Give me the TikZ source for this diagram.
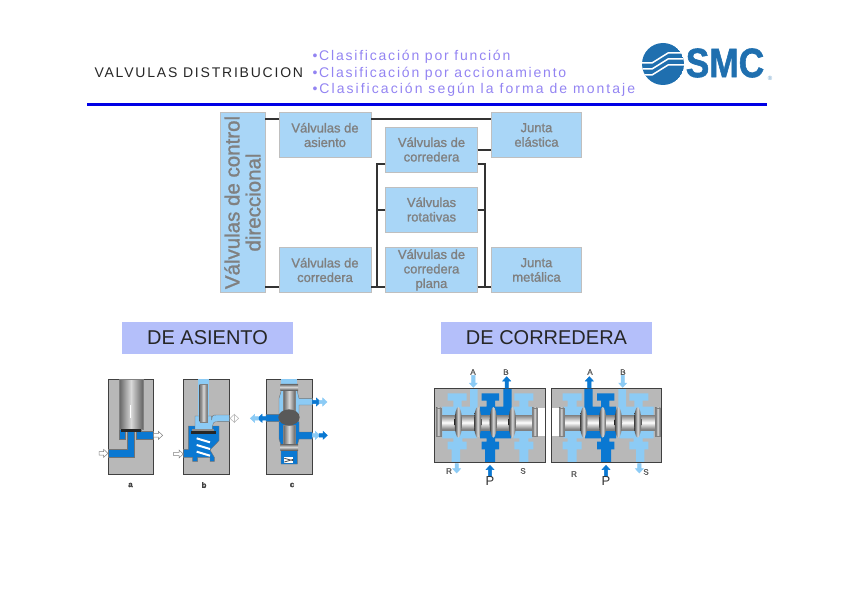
\documentclass[tikz,border=0pt]{standalone}
\usepackage{fontspec}
\usepackage{xcolor}
\setmainfont{Liberation Sans}
\newfontfamily\spaced[LetterSpace=12.8]{Liberation Sans}
\newfontfamily\spacedwide[LetterSpace=14.6]{Liberation Sans}
\newfontfamily\boxfont[FakeBold=1.2]{Liberation Sans}
\newfontfamily\logofont[FakeBold=1.5]{Liberation Sans Bold}
\usetikzlibrary{positioning,calc}
\definecolor{boxblue}{HTML}{A9D6F7}
\definecolor{headblue}{HTML}{B4BFFA}
\definecolor{lilac}{HTML}{9384F2}
\definecolor{lightb}{HTML}{8CCBF5}
\definecolor{darkb}{HTML}{0A78D2}
\definecolor{smcblue}{HTML}{1F6FAF}
\definecolor{bodygray}{HTML}{B8B8B8}
\tikzset{
  typebox/.style={draw=black!25, fill=boxblue, minimum width=92pt, minimum height=45pt, inner sep=0pt, align=center, font=\fontsize{13}{14.5}\boxfont, text=black!50},
  conn/.style={draw=black!80, line width=2pt},
  headbox/.style={fill=headblue, minimum height=32pt, font=\fontsize{20}{22}\selectfont, text=black!85},
  bullet/.style={anchor=west, text=lilac, font=\fontsize{14}{16}\spaced},
  body/.style={fill=bodygray, draw=black!75, line width=0.6pt},
  lightport/.style={fill=lightb},
  darkport/.style={fill=darkb},
  channel/.style={draw=black!55, line width=0.4pt},
  steel/.style={top color=black!50, bottom color=black!55, middle color=white, draw=black!50, line width=0.2pt},
  steelv/.style={left color=black!60, right color=black!60, middle color=white!85!black, draw=black!50, line width=0.2pt},
  land/.style={left color=black!75, right color=black!70, middle color=black!15},
  tag/.style={font=\fontsize{8}{9}\logofont, text=black!75},
  smalltag/.style={font=\fontsize{8}{9}\boxfont, text=black!65}
}
% arrow of a port: x, y, angle, length, fill, line
\newcommand{\portarrow}[6]{
  \begin{scope}[shift={(#1,#2)},rotate=#3]
    \draw[fill=#5,draw=#6,line width=0.5pt] (0,-5) -- (#4-13,-5) -- (#4-13,-12) -- (#4,0) -- (#4-13,12) -- (#4-13,5) -- (0,5) -- cycle;
  \end{scope}}
% the spool valve, in the 3x coordinates of its crop
\newcommand{\spoolvalve}{
  \fill[body] (28,86) rectangle (360,308);
  \fill[lightport] (68,100) -- (125,100) -- (125,122) -- (110,122) -- (110,140) -- (135,140) -- (135,86) -- (158,86) -- (158,165) -- (52,165) -- (52,140) -- (85,140) -- (85,122) -- (68,122) -- cycle;
  \fill[lightport] (52,210) -- (155,210) -- (155,235) -- (112,235) -- (112,245) -- (125,245) -- (125,268) -- (105,268) -- (105,308) -- (80,308) -- (80,268) -- (68,268) -- (68,245) -- (85,245) -- (85,235) -- (52,235) -- cycle;
  \fill[darkport] (170,100) -- (222,100) -- (222,122) -- (210,122) -- (210,140) -- (235,140) -- (235,86) -- (260,86) -- (260,165) -- (165,165) -- (165,140) -- (185,140) -- (185,122) -- (170,122) -- cycle;
  \fill[darkport] (165,210) -- (258,210) -- (258,235) -- (210,235) -- (210,245) -- (222,245) -- (222,268) -- (210,268) -- (210,308) -- (180,308) -- (180,268) -- (170,268) -- (170,245) -- (185,245) -- (185,235) -- (165,235) -- cycle;
  \fill[lightport] (268,100) -- (325,100) -- (325,122) -- (310,122) -- (310,140) -- (322,140) -- (322,165) -- (265,165) -- (265,140) -- (283,140) -- (283,122) -- (268,122) -- cycle;
  \fill[lightport] (265,210) -- (322,210) -- (322,235) -- (310,235) -- (310,245) -- (325,245) -- (325,268) -- (310,268) -- (310,308) -- (283,308) -- (283,268) -- (268,268) -- (268,245) -- (283,245) -- (283,235) -- (265,235) -- cycle;
  \fill[white] (335,145) rectangle (360,228);
  \shade[steel] (45,165) rectangle (325,210);
  \shade[steelv] (33,143) rectangle (47,228);
  \shade[steelv] (322,143) rectangle (336,228);
  \foreach \x in {100,158,205,262}
    \shade[land] (\x,187) ellipse (11 and 46);
  \draw[black!75, line width=0.6pt] (28,86) rectangle (360,308);
  \portarrow{145}{46}{-90}{36}{lightb}{lightb}
  \portarrow{245}{84}{90}{34}{darkb}{darkb}
  \portarrow{95}{311}{-90}{28}{lightb}{lightb}
  \portarrow{195}{350}{90}{34}{darkb}{darkb}
}
\begin{document}
\begin{tikzpicture}[x=1pt,y=-1pt]
\useasboundingbox (0,0) rectangle (848,599);
% header
\node[anchor=west, font=\fontsize{14}{16}\spaced, text=black!85] (title) at (91,73) {VALVULAS DISTRIBUCION};
\node[bullet] (b1) at (309,57) {•Clasificación por función};
\node[bullet] (b2) at (309,73.5) {•Clasificación por accionamiento};
\node[bullet, font=\fontsize{14}{16}\spacedwide] (b3) at (309,90) {•Clasificación según la forma de montaje};
\fill[fill=blue!90!black] (87,103.5) rectangle (767,106.5);
% logo
\begin{scope}
  \clip (663,64) circle (21);
  \fill[smcblue] (663,64) circle (21);
  \foreach \y in {0,6,12}
    \draw[white, line width=1.5pt] (640,63+\y) -- (652,63+\y) -- (668,53+\y) -- (690,53+\y);
\end{scope}
\node[anchor=center, inner sep=0pt, text=smcblue, font=\fontsize{41}{41}\logofont, xscale=0.86] (smc) at (725,63) {SMC};
\node[inner sep=0pt, text=smcblue!70, font=\fontsize{6}{6}\selectfont] (reg) at (770,78) {®};
% tree of valve types
\node[typebox, rotate=90, minimum width=180pt, minimum height=45pt, font=\fontsize{20.5}{21}\boxfont] (ctrl) at (242.5,202.5) {Válvulas de control\\direccional};
\node[typebox] (asiento) at (325,135) {Válvulas de\\asiento};
\node[typebox] (corredera) at (325,270) {Válvulas de\\corredera};
\node[typebox] (vcorr) at (431.5,149.5) {Válvulas de\\corredera};
\node[typebox] (rot) at (431.5,209.5) {Válvulas\\rotativas};
\node[typebox] (plana) at (431.5,270) {Válvulas de\\corredera\\plana};
\node[typebox, minimum width=90pt] (elast) at (536.5,135) {Junta\\elástica};
\node[typebox, minimum width=90pt] (metal) at (536.5,270) {Junta\\metálica};
\draw[conn] ([yshift=-7pt]ctrl.south east) -- ([yshift=-7pt]asiento.north west);
\draw[conn] ([yshift=-7pt]asiento.north east) -- ([yshift=-7pt]elast.north west);
\draw[conn] ([yshift=6pt]ctrl.south west) -- ([yshift=6pt]corredera.south west);
\draw[conn] ([yshift=6pt]corredera.south east) -- ([yshift=6pt]plana.south west);
\draw[conn] (vcorr.east) -- (vcorr.east -| elast.west);
\draw[conn] ([yshift=8pt]vcorr.south west) -| ([xshift=-8pt,yshift=6pt]plana.south west);
\draw[conn] ([yshift=8pt]vcorr.south east) -| ([xshift=7pt,yshift=6pt]plana.south east);
\draw[conn] (rot.west) -- ++(-8,0);
\draw[conn] (rot.east) -- ++(7,0);
\draw[conn] ([yshift=6pt]plana.south east) -- ([yshift=6pt]metal.south west);
% headings
\node[headbox, minimum width=171pt] (hasiento) at (207.5,338) {DE ASIENTO};
\node[headbox, minimum width=211pt] (hcorr) at (546.5,338) {DE CORREDERA};
% poppet valves
\begin{scope}[shift={(95,370)},scale=1/3]
  % a
  \fill[body] (39,28) rectangle (176,314);
  \draw[fill=darkb,channel] (39,238) -- (98,238) -- (98,178) -- (118,178) -- (118,262) -- (39,262) -- cycle;
  \draw[fill=darkb,channel] (73,178) rectangle (90,207);
  \draw[fill=darkb,channel] (125,178) -- (140,178) -- (140,185) -- (176,185) -- (176,207) -- (125,207) -- cycle;
  \shade[steelv] (73,28) rectangle (143,178);
  \fill[black!85] (78,178) rectangle (138,187);
  \draw[white, line width=0.6pt] (107,105) -- (107,145);
  \portarrow{12}{250}{0}{27}{white}{black!50}
  \portarrow{176}{196}{0}{27}{white}{black!50}
  % b
  \fill[body] (265,28) rectangle (403,314);
  \draw[fill=darkb,channel] (280,168) -- (372,168) -- (372,212) -- (345,240) -- (358,262) -- (358,274) -- (345,274) -- (345,262) -- (308,262) -- (308,274) -- (293,274) -- (293,262) -- (265,262) -- (265,238) -- (280,238) -- cycle;
  \foreach \y in {205,225,245}
    \draw[white, line width=2pt] (305,\y) -- (345,\y+12);
  \fill[lightb] (308,28) rectangle (343,138);
  \draw[fill=lightb,channel] (300,138) -- (350,138) -- (350,150) .. controls (352,135) .. (368,135) -- (403,135) -- (403,155) -- (370,155) .. controls (356,155) .. (352,170) -- (352,180) -- (300,180) -- cycle;
  \shade[steelv] (314,42) rectangle (337,155);
  \fill[black!85] (287,183) rectangle (362,192);
  \fill[black!45] (292,178) rectangle (357,184);
  \portarrow{236}{252}{0}{29}{white}{black!50}
  \portarrow{418}{145}{0}{13}{white}{black!30}
  \portarrow{418}{145}{180}{13}{white}{black!30}
  % c
  \fill[body] (513,28) rectangle (652,314);
  \fill[lightb] (558,28) rectangle (607,42);
  \draw[fill=lightb,channel] (558,42) -- (607,42) -- (607,65) -- (612,85) -- (652,85) -- (652,105) -- (612,105) -- (612,132) -- (552,132) -- (552,85) -- (558,65) -- cycle;
  \draw[fill=darkb,channel] (513,133) -- (552,133) -- (552,155) -- (612,155) -- (612,186) -- (652,186) -- (652,207) -- (612,207) -- (607,225) -- (607,282) -- (558,282) -- (558,225) -- (552,207) -- (552,155) -- (513,155) -- cycle;
  \shade[steelv] (565,60) rectangle (600,125);
  \shade[steelv] (565,165) rectangle (600,225);
  \shade[top color=black!60, bottom color=black!60, middle color=white!85!black] (556,42) rectangle (609,60);
  \shade[top color=black!60, bottom color=black!60, middle color=white!85!black] (556,222) rectangle (609,240);
  \fill[black!65] (582,142) ellipse (32 and 24);
  \fill[white] (568,262) rectangle (595,280);
  \draw[black!70, line width=0.8pt] (568,265) -- (595,272) (568,276) -- (595,268);
  \portarrow{652}{96}{0}{25}{darkb}{darkb}
  \portarrow{672}{96}{0}{24}{lightb}{lightb}
  \portarrow{652}{196}{0}{22}{lightb}{lightb}
  \portarrow{672}{196}{0}{25}{darkb}{darkb}
  \portarrow{513}{145}{180}{25}{darkb}{darkb}
  \portarrow{490}{145}{180}{24}{lightb}{lightb}
\end{scope}
\node[tag] (la) at (130.5,485) {a};
\node[tag] (lb) at (204,485) {b};
\node[tag] (lc) at (292,485) {c};
% spool valves
\begin{scope}[shift={(425,360)},scale=1/3]
  \spoolvalve
\end{scope}
\begin{scope}[shift={(671,360)},xscale=-1/3,yscale=1/3]
  \spoolvalve
\end{scope}
\node[smalltag] (pa) at (473,372) {A};
\node[smalltag] (pb) at (506,372) {B};
\node[smalltag] (pr) at (449,471) {R};
\node[smalltag] (ps) at (523,471) {S};
\node[font=\fontsize{13}{14}\selectfont, text=black!80] (pp) at (490,481) {P};
\node[smalltag] (qa) at (590,372) {A};
\node[smalltag] (qb) at (623,372) {B};
\node[smalltag] (qr) at (574,474) {R};
\node[smalltag] (qs) at (646,472) {S};
\node[font=\fontsize{13}{14}\selectfont, text=black!80] (qp) at (606,481) {P};
\end{tikzpicture}
\end{document}
